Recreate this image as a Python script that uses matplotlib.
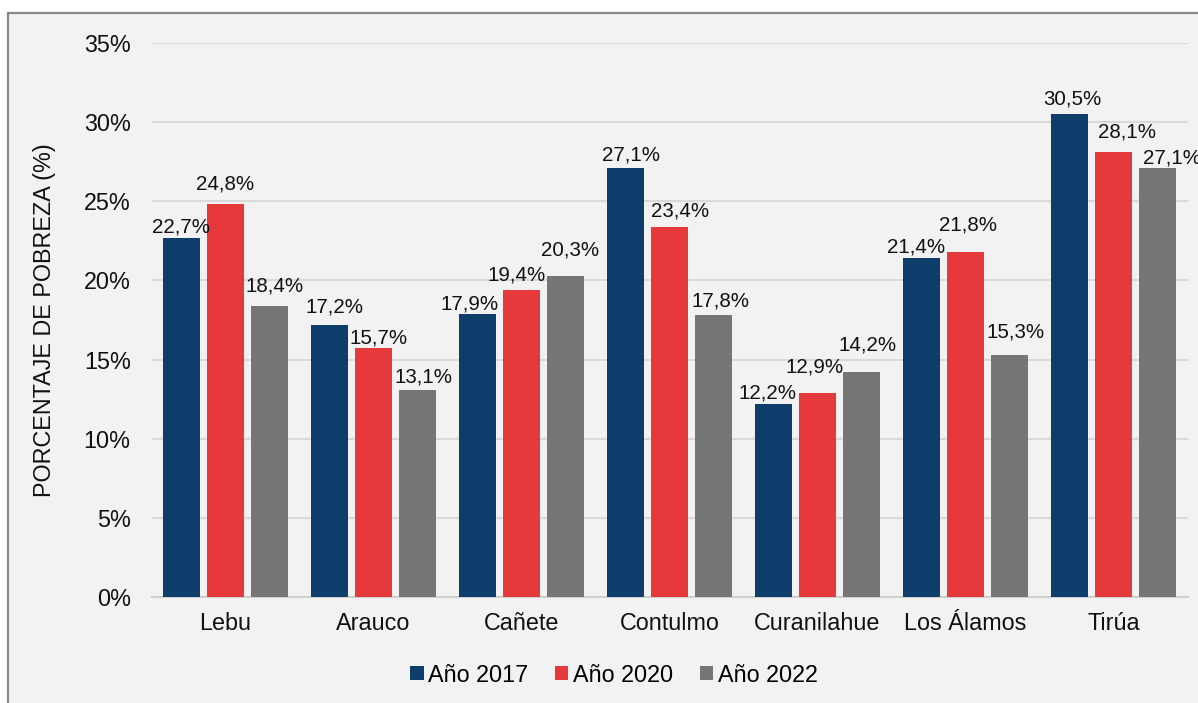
import matplotlib
matplotlib.use("Agg")
import matplotlib.pyplot as plt
from matplotlib.patches import Rectangle
import numpy as np

plt.rcParams['font.family'] = ['Liberation Sans', 'DejaVu Sans']

categories = ["Lebu", "Arauco", "Cañete", "Contulmo", "Curanilahue", "Los Álamos", "Tirúa"]
series_names = ["Año 2017", "Año 2020", "Año 2022"]
v2017 = [22.7, 17.2, 17.9, 27.1, 12.2, 21.4, 30.5]
v2020 = [24.8, 15.7, 19.4, 23.4, 12.9, 21.8, 28.1]
v2022 = [18.4, 13.1, 20.3, 17.8, 14.2, 15.3, 27.1]
yticks = [0, 5, 10, 15, 20, 25, 30, 35]
ylabel = "PORCENTAJE DE POBREZA (%)"

colors = ["#0E3D6B", "#E5393B", "#767676"]

# label nudges (pixels): (dx, dy above bar top to baseline)
nudges = [
    [(-0.7, 5.3), (5, 12.6), (-8, 4.6), (5, 7.3), (-6, 5), (-5.8, 5.4), (2.5, 9.3)],
    [(0, 15), (5, 5), (-5, 9.3), (10.3, 9.7), (-2.5, 20.6), (3, 21.7), (13.3, 15)],
    [(5.3, 14), (5.6, 7.3), (4.5, 20), (7, 9), (5.8, 22), (5.7, 17.3), (15, 5)],
]

W, H = 1198, 703
fig = plt.figure(figsize=(W / 100, H / 100), dpi=100)
fig.patch.set_facecolor("white")

# chart area background with border
bg = Rectangle((8 / W, -0.05), 1.1, 1 - 13 / H + 0.05, transform=fig.transFigure,
               facecolor="#F2F2F2", edgecolor="#888888", linewidth=1.6, zorder=-10)
fig.add_artist(bg)

ax = fig.add_axes([151.5 / W, 106 / H, 1036 / W, 554 / H])
ax.set_facecolor("none")
ax.set_zorder(2)

x = np.arange(len(categories))
bw = 0.25
step = 0.297
series = [v2017, v2020, v2022]
for i, (vals, col, name) in enumerate(zip(series, colors, series_names)):
    pos = x + (i - 1) * step
    bars = ax.bar(pos, vals, width=bw, color=col, label=name, zorder=3)
    for j, (b, v) in enumerate(zip(bars, vals)):
        dx, dy = nudges[i][j]
        ax.annotate(f"{v:.1f}%".replace(".", ","),
                    xy=(b.get_x() + b.get_width() / 2, v),
                    xytext=(dx, dy), textcoords="offset pixels",
                    ha="center", va="baseline", fontsize=14.8, color="#111111",
                    zorder=5, annotation_clip=False)

ax.set_xlim(-0.5, len(categories) - 0.5)
ax.set_ylim(0, 35)
ax.set_yticks(yticks)
ax.set_yticklabels([f"{t}%" for t in yticks])
ax.set_xticks(x)
ax.set_xticklabels(categories)
ax.tick_params(axis="both", length=0, labelsize=16.8, colors="#111111")
ax.tick_params(axis="y", pad=15)
ax.tick_params(axis="x", pad=11)
ax.grid(axis="y", color="#D9D9D9", linewidth=1.5, zorder=1)
for s in ["top", "right", "left"]:
    ax.spines[s].set_visible(False)
ax.spines["bottom"].set_color("#D0D0D0")
ax.spines["bottom"].set_linewidth(1.5)

fig.text(45 / W, 1 - 320 / H, ylabel, rotation=90, ha="center", va="center",
         fontsize=16.8, color="#111111")

leg = fig.legend(loc="center", bbox_to_anchor=(614 / W, 1 - 675 / H), ncol=3,
                 frameon=False, fontsize=16.8, handlelength=0.57, handleheight=0.57,
                 handletextpad=0.19, columnspacing=1.16)

fig.savefig("out.png", dpi=100, facecolor=fig.get_facecolor())
